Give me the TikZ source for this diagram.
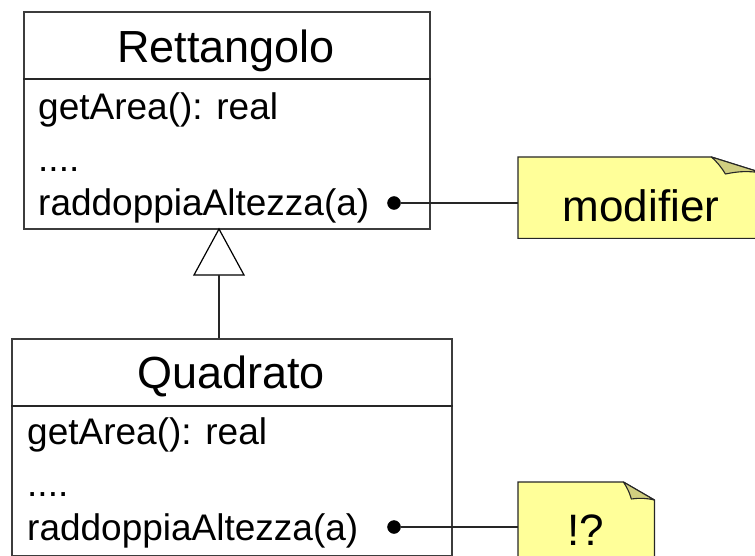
\documentclass[tikz,border=0pt]{standalone}
\usepackage{fontspec}
\setmainfont{Liberation Sans}
\definecolor{noteY}{RGB}{255,255,153}
\definecolor{foldY}{RGB}{208,206,128}
\definecolor{edge}{RGB}{60,60,60}
\begin{document}
\begin{tikzpicture}[x=1pt,y=-1pt,
  box/.style={draw=edge, line width=1.8pt, inner sep=0pt, anchor=north west},
  divider/.style={draw=black!85, line width=1.4pt},
  titletext/.style={font=\fontsize{45}{54}\selectfont, anchor=base, inner sep=0pt},
  methtext/.style={font=\fontsize{37}{44}\selectfont, anchor=base west, inner sep=0pt},
  dotnode/.style={circle, fill=black, draw=black, inner sep=0pt, minimum size=13pt},
  conn/.style={draw=black!85, line width=1.3pt},
  notebody/.style={inner sep=0pt, anchor=north west},
  noteshape/.style={fill=noteY, draw=black!85, line width=1.2pt, line join=miter},
  foldshape/.style={fill=foldY, draw=black!85, line width=1.1pt, line join=round},
  notetext/.style={font=\fontsize{44}{52}\selectfont, anchor=base, inner sep=0pt}]
\useasboundingbox (0,0) rectangle (755,556);
\clip (0,0) rectangle (755,556);

% Rettangolo
\node[box, minimum width=406pt, minimum height=217pt] (R) at (23,11) {};
\draw[divider] ([yshift=-68pt]R.north west) -- ([yshift=-68pt]R.north east);
\node[titletext] (Rt) at (226,63) {Rettangolo};
\node[methtext] (R1) at (38,120) {getArea(): real};
\node[methtext] (R2) at (38,172) {....};
\node[methtext] (R3) at (38,216) {raddoppiaAltezza(a)};
\node[dotnode] (Rd) at (394,203) {};

% Quadrato
\node[box, minimum width=440pt, minimum height=217pt] (Q) at (11,338) {};
\draw[divider] ([yshift=-68pt]Q.north west) -- ([yshift=-68pt]Q.north east);
\node[titletext] (Qt) at (231,388) {Quadrato};
\node[methtext] (Q1) at (27,444) {getArea(): real};
\node[methtext] (Q2) at (27,496) {....};
\node[methtext] (Q3) at (27,540) {raddoppiaAltezza(a)};
\node[dotnode] (Qd) at (394,527) {};

% generalization
\coordinate (apex) at (219,229);
\coordinate (tb) at (219,275);
\draw[black, line width=1.2pt, fill=white] (apex) -- (194,275) -- (244,275) -- cycle;
\draw[conn] (tb) -- (tb |- Q.north);

% note 1
\node[notebody, minimum width=244pt, minimum height=81pt] (N1) at (518,157) {};
\path[noteshape] (N1.north west) -- ([xshift=-51pt]N1.north east) -- ([yshift=-16pt]N1.north east) -- (N1.south east) -- (N1.south west) -- cycle;
\path[foldshape] ([xshift=-51pt]N1.north east) to[bend left=8] ([xshift=-37pt,yshift=-17pt]N1.north east) to[bend left=10] ([yshift=-16pt]N1.north east) -- cycle;
\node[notetext] (N1t) at (641,222) {modifier};
\draw[conn] (Rd) -- (Rd -| N1.west);

% note 2
\node[notebody, minimum width=136pt, minimum height=90pt] (N2) at (518,482) {};
\path[noteshape] (N2.north west) -- ([xshift=-31pt]N2.north east) -- ([yshift=-18pt]N2.north east) -- (N2.south east) -- (N2.south west) -- cycle;
\path[foldshape] ([xshift=-31pt]N2.north east) to[bend left=8] ([xshift=-23pt,yshift=-17pt]N2.north east) to[bend left=10] ([yshift=-18pt]N2.north east) -- cycle;
\node[notetext] (N2t) at (586,545) {!?};
\draw[conn] (Qd) -- (Qd -| N2.west);
\end{tikzpicture}
\end{document}
